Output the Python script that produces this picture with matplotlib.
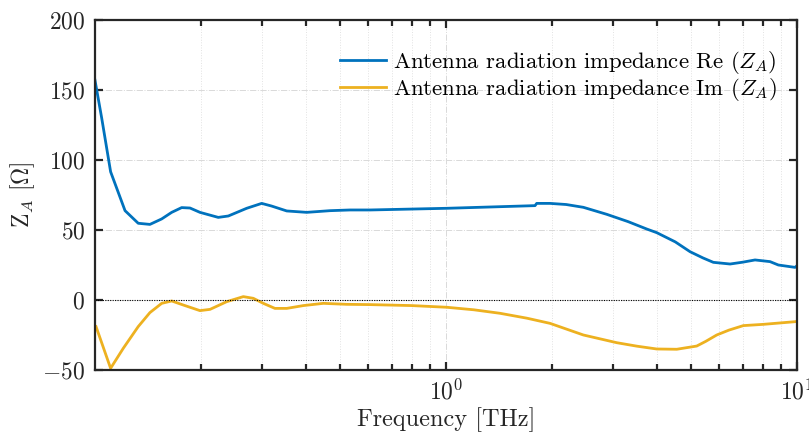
import numpy as np
import matplotlib.pyplot as plt

plt.rcParams['font.family'] = 'serif'
plt.rcParams['font.serif'] = ['cmr10']
plt.rcParams['mathtext.fontset'] = 'cm'
plt.rcParams['axes.formatter.use_mathtext'] = True

# Real part of antenna radiation impedance
freq_re = [0.100, 0.1045, 0.1108, 0.1218, 0.1328, 0.1434, 0.1549, 0.1654, 0.1766,
           0.1865, 0.1991, 0.2245, 0.2398, 0.2705, 0.2985, 0.3186, 0.3518, 0.4010,
           0.4672, 0.5328, 0.6073, 1.005, 1.793, 1.813, 1.979, 2.20, 2.462, 2.870,
           3.30, 3.731, 3.984, 4.50, 4.957, 5.40, 5.775, 6.446, 7.00, 7.592, 8.378,
           8.845, 9.87, 10.0]
z_re = [157, 130, 91.6, 63.8, 54.8, 54.0, 57.9, 62.6, 66.0,
        65.7, 62.6, 59.0, 60.0, 65.5, 69.0, 67.1, 63.6, 62.6,
        63.8, 64.3, 64.3, 65.5, 67.4, 69.0, 69.0, 68.2, 66.2, 61.2,
        56.0, 50.7, 48.1, 41.5, 34.5, 30.0, 26.9, 25.7, 27.0, 28.6, 27.4,
        25.0, 23.3, 24.5]

# Imaginary part
freq_im = [0.1007, 0.1108, 0.1204, 0.1328, 0.1434, 0.1549, 0.1654, 0.1785, 0.1991,
           0.2127, 0.2373, 0.2646, 0.2825, 0.3017, 0.3256, 0.3518, 0.3922, 0.4471,
           0.5214, 0.6073, 0.80, 1.005, 1.20, 1.425, 1.70, 1.979, 2.462, 3.064,
           3.50, 3.984, 4.543, 5.179, 5.50, 5.905, 6.40, 7.031, 8.017, 9.87, 10.0]
z_im = [-19, -48.8, -34.5, -19, -9, -2.4, -0.7, -3.6, -7.6,
        -6.7, -1.2, 2.4, 1.2, -2.4, -6.0, -6.0, -4.0, -2.4,
        -3.1, -3.3, -4.0, -5.2, -7.0, -9.5, -13.0, -16.7, -25.0, -30.5,
        -33.0, -35.0, -35.2, -32.9, -29.5, -25.0, -21.5, -18.3, -17.4, -15.5, -15.3]

blue = '#0072BD'
yellow = '#EDB120'

fig = plt.figure(figsize=(8.09, 4.34), dpi=100)
ax = fig.add_axes([0.1174, 0.1475, 0.8678, 0.8064])

ax.plot(freq_re, z_re, color=blue, lw=2.0,
        label=r'Antenna radiation impedance Re $(Z_A)$')
ax.plot(freq_im, z_im, color=yellow, lw=2.0,
        label=r'Antenna radiation impedance Im $(Z_A)$')
ax.axhline(0, color='black', lw=0.8, ls=(0, (1, 1.2)))

ax.set_xscale('log')
ax.set_xlim(0.1, 10)
ax.set_ylim(-50, 200)
ax.set_yticks([-50, 0, 50, 100, 150, 200])
ax.set_xticks([1, 10])
ax.set_xticklabels([r'$10^0$', r'$10^1$'])

ax.grid(True, which='major', axis='y', color='#d9d9d9', lw=0.7, ls='-.')
ax.grid(True, which='major', axis='x', color='#d9d9d9', lw=0.7, ls='-.')
ax.grid(True, which='minor', axis='x', color='#e2e2e2', lw=0.7, ls=':')

for s in ax.spines.values():
    s.set_linewidth(1.6)
    s.set_color('#262626')
ax.tick_params(which='both', direction='in', top=True, right=True,
               color='#262626', width=1.6, labelsize=17, labelcolor='#262626')
ax.tick_params(which='major', length=6, pad=7)
ax.tick_params(which='minor', length=4)
ax.set_axisbelow(True)

ax.set_xlabel('Frequency [THz]', fontsize=17.5, color='#262626', labelpad=2)
ax.set_ylabel(r'Z$_A$ $[\mathit{\Omega}]$', fontsize=17, color='#262626')

ax.legend(loc='upper right', bbox_to_anchor=(1.0, 0.975), frameon=False,
          fontsize=16.4, handlelength=2.0, handletextpad=0.3, labelspacing=0.0)

fig.savefig('out.png', dpi=100)
